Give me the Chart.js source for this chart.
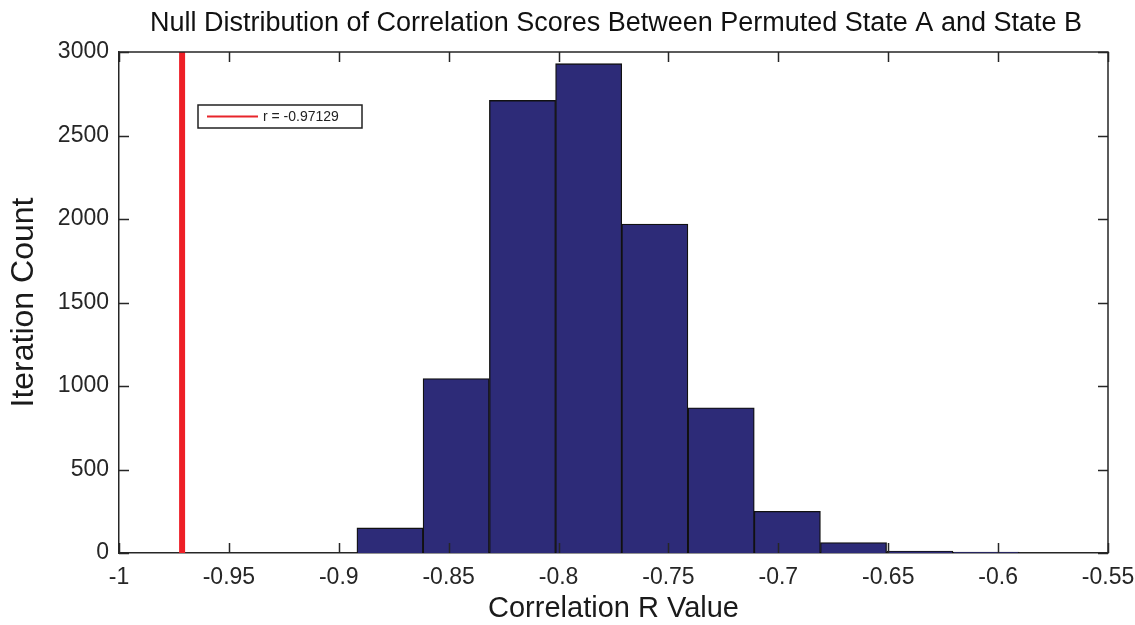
<!DOCTYPE html>
<html>
<head>
<meta charset="utf-8">
<script src="https://cdn.jsdelivr.net/npm/chart.js@4"></script>
<style>
  html, body { margin: 0; padding: 0; background: #ffffff; }
  #wrap { width: 1135px; height: 625px; position: relative; }
</style>
</head>
<body>
<div id="wrap"><canvas id="c" width="1135" height="625"></canvas></div>
<script>
// ---- data ----
const chartTitle = 'Null Distribution of Correlation Scores Between Permuted State A and State B';
const xTitle = 'Correlation R Value';
const yTitle = 'Iteration Count';
const binCenters = [-0.8767, -0.8466, -0.8164, -0.7863, -0.7562, -0.7260, -0.6959, -0.6658, -0.6356, -0.6055];
const binCounts  = [150, 1045, 2710, 2930, 1970, 870, 250, 62, 12, 6];
const observedR = -0.97129;
const observedLabel = 'r = -0.97129';
const xTicks = [-1, -0.95, -0.9, -0.85, -0.8, -0.75, -0.7, -0.65, -0.6, -0.55];
const yTicks = [0, 500, 1000, 1500, 2000, 2500, 3000];

const axisColor = '#262626';
const fontFam = '"Liberation Sans", Arial, Helvetica, sans-serif';

const barData = binCenters.map((x, i) => ({ x: x, y: binCounts[i] }));
const lineData = [{ x: observedR, y: yTicks[0] }, { x: observedR, y: yTicks[yTicks.length - 1] }];

// draws title, top/right box, inward ticks and legend box
const decor = {
  id: 'decor',
  afterDatasetsDraw(chart) {
    const { ctx, chartArea: a, scales: { x, y } } = chart;
    ctx.save();
    ctx.strokeStyle = axisColor;
    ctx.lineWidth = 1.5;
    // box
    ctx.beginPath();
    ctx.moveTo(a.left, a.top); ctx.lineTo(a.right, a.top); ctx.lineTo(a.right, a.bottom);
    ctx.stroke();
    // inward ticks
    const tl = 10;
    ctx.beginPath();
    xTicks.forEach(v => {
      const px = Math.round(x.getPixelForValue(v)) + 0.5;
      ctx.moveTo(px, a.bottom); ctx.lineTo(px, a.bottom - tl);
      ctx.moveTo(px, a.top); ctx.lineTo(px, a.top + tl);
    });
    yTicks.forEach(v => {
      const py = Math.round(y.getPixelForValue(v)) + 0.5;
      ctx.moveTo(a.left, py); ctx.lineTo(a.left + tl, py);
      ctx.moveTo(a.right, py); ctx.lineTo(a.right - tl, py);
    });
    ctx.stroke();
    // legend box
    const lx = 198, ly = 105, lw = 164, lh = 23;
    ctx.fillStyle = '#ffffff';
    ctx.fillRect(lx, ly, lw, lh);
    ctx.strokeStyle = '#222222';
    ctx.lineWidth = 1.5;
    ctx.strokeRect(lx, ly, lw, lh);
    ctx.strokeStyle = '#e8252b';
    ctx.lineWidth = 2;
    ctx.beginPath();
    ctx.moveTo(lx + 9, ly + lh / 2); ctx.lineTo(lx + 60, ly + lh / 2);
    ctx.stroke();
    ctx.fillStyle = '#222222';
    ctx.font = '14px ' + fontFam;
    ctx.textBaseline = 'middle';
    ctx.textAlign = 'left';
    ctx.fillText(observedLabel, lx + 65, ly + lh / 2 + 1);
    // title
    ctx.font = '27px ' + fontFam;
    ctx.textAlign = 'center';
    ctx.fillStyle = '#111111';
    ctx.fillText(chartTitle, 616, 24);
    ctx.restore();
  }
};

new Chart(document.getElementById('c'), {
  type: 'bar',
  data: {
    datasets: [
      {
        type: 'line',
        label: observedLabel,
        data: lineData,
        borderColor: '#ee1f26',
        borderWidth: 6,
        pointRadius: 0,
        fill: false,
        order: 0
      },
      {
        type: 'bar',
        label: 'Null distribution',
        data: barData,
        backgroundColor: '#2d2b78',
        borderColor: '#111111',
        borderWidth: 1.3,
        barPercentage: 1,
        categoryPercentage: 1,
        borderSkipped: 'start',
        order: 1
      }
    ]
  },
  options: {
    responsive: false,
    animation: false,
    devicePixelRatio: 1,
    layout: { padding: { top: 52, right: 27, left: 0, bottom: 0 } },
    plugins: {
      legend: { display: false },
      title: { display: false },
      tooltip: { enabled: false }
    },
    scales: {
      x: {
        type: 'linear',
        offset: false,
        min: xTicks[0],
        max: xTicks[xTicks.length - 1],
        afterBuildTicks: s => { s.ticks = xTicks.map(v => ({ value: v })); },
        grid: { display: false, drawTicks: false, offset: false },
        border: { display: true, color: axisColor, width: 1.5 },
        ticks: {
          color: axisColor,
          font: { size: 23, family: fontFam },
          padding: 11,
          maxRotation: 0,
          autoSkip: false,
          callback: v => String(parseFloat(Number(v).toFixed(2)))
        },
        title: {
          display: true,
          text: xTitle,
          color: '#1a1a1a',
          font: { size: 29, family: fontFam, lineHeight: 1 },
          padding: { top: 0, bottom: 2 }
        },
        afterFit: s => { s.height = 72; s.paddingLeft = 0; s.paddingRight = 0; }
      },
      y: {
        min: yTicks[0],
        max: yTicks[yTicks.length - 1],
        afterBuildTicks: s => { s.ticks = yTicks.map(v => ({ value: v })); },
        grid: { display: false, drawTicks: false },
        border: { display: true, color: axisColor, width: 1.5 },
        ticks: {
          color: axisColor,
          font: { size: 23, family: fontFam },
          padding: 10,
          autoSkip: false,
          callback: v => String(v)
        },
        title: {
          display: true,
          text: yTitle,
          color: '#1a1a1a',
          font: { size: 32, family: fontFam, lineHeight: 1 },
          padding: { top: 8, bottom: 0 }
        },
        afterFit: s => { s.width = 119; s.paddingTop = 0; s.paddingBottom = 0; }
      }
    }
  },
  plugins: [decor]
});
</script>
</body>
</html>
